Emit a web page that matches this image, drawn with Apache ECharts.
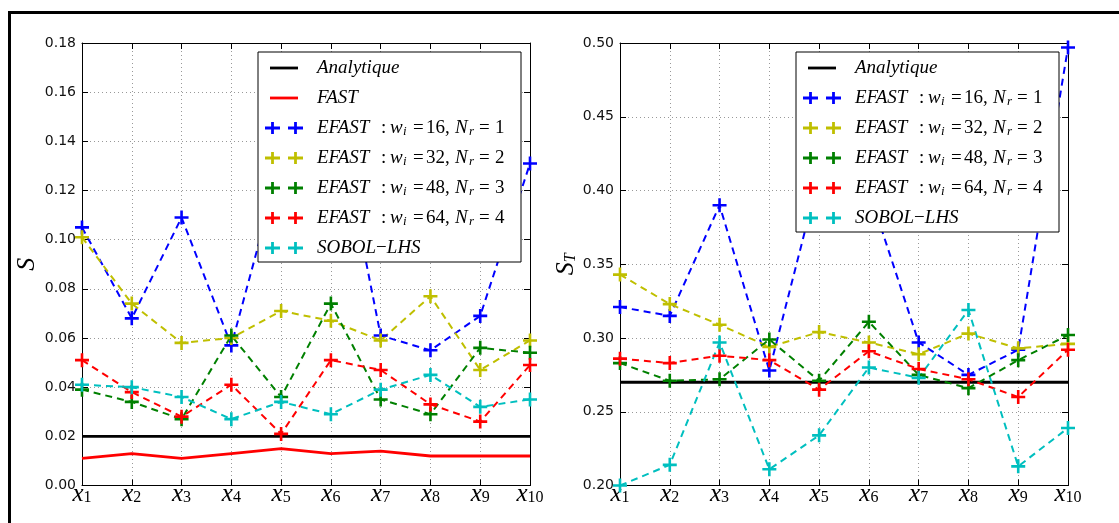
<!DOCTYPE html>
<html><head><meta charset="utf-8">
<script src="https://cdn.jsdelivr.net/npm/echarts@6/dist/echarts.min.js"></script>
<style>html,body{margin:0;padding:0;background:#fff}#c{width:1119px;height:523px}</style>
</head><body><div id="c"></div>
<script>
// ---- categories (x_i) ----
const categories = ['1','2','3','4','5','6','7','8','9','10'];

// ---- left panel : first-order index S ----
const sTicks = [0.00,0.02,0.04,0.06,0.08,0.10,0.12,0.14,0.16,0.18];
const sAnalytique = [0.020,0.020,0.020,0.020,0.020,0.020,0.020,0.020,0.020,0.020];
const sFast      = [0.011,0.013,0.011,0.013,0.015,0.013,0.014,0.012,0.012,0.012];
const sEfast16   = [0.105,0.068,0.109,0.057,0.132,0.163,0.061,0.055,0.069,0.131];
const sEfast32   = [0.101,0.074,0.058,0.060,0.071,0.067,0.059,0.077,0.047,0.059];
const sEfast48   = [0.039,0.034,0.027,0.061,0.036,0.074,0.035,0.029,0.056,0.054];
const sEfast64   = [0.051,0.038,0.028,0.041,0.021,0.051,0.047,0.033,0.026,0.049];
const sSobol     = [0.041,0.040,0.036,0.027,0.034,0.029,0.039,0.045,0.032,0.035];

// ---- right panel : total index S_T ----
const stTicks = [0.20,0.25,0.30,0.35,0.40,0.45,0.50];
const stAnalytique = [0.270,0.270,0.270,0.270,0.270,0.270,0.270,0.270,0.270,0.270];
const stEfast16  = [0.321,0.315,0.390,0.278,0.410,0.400,0.297,0.275,0.292,0.497];
const stEfast32  = [0.343,0.323,0.309,0.294,0.304,0.297,0.289,0.303,0.293,0.296];
const stEfast48  = [0.283,0.271,0.272,0.299,0.271,0.311,0.275,0.266,0.285,0.302];
const stEfast64  = [0.286,0.283,0.288,0.285,0.265,0.291,0.279,0.272,0.260,0.292];
const stSobol    = [0.200,0.214,0.297,0.211,0.234,0.280,0.273,0.319,0.213,0.239];

const C = {k:'#000000', b:'#0000ff', y:'#bfbf00', g:'#008000', r:'#ff0000', c:'#00bfbf'};
const SERIF = '"Liberation Serif", "DejaVu Serif", serif';
const PLUS = 'path://M0,5.7H14V8.3H0Z M5.7,0H8.3V14H5.7Z';
const PLUS2 = 'path://M0,0L0,0M48,16L48,16M1,6.6H16V9.4H1Z M7.1,2H9.9V14H7.1Z M24,6.6H39V9.4H24Z M30.1,2H32.9V14H30.1Z';
const BAR = 'path://M0,0L0,0M48,16L48,16M6,6.6H34V9.4H6Z';

const NAMES = {
  an: 'Analytique', fa: 'FAST',
  e16: 'EFAST : wi =16, Nr =1', e32: 'EFAST : wi =32, Nr =2',
  e48: 'EFAST : wi =48, Nr =3', e64: 'EFAST : wi =64, Nr =4',
  so: 'SOBOL-LHS'
};
const RICH_NAMES = {};
RICH_NAMES[NAMES.an] = '{a|Analytique}';
RICH_NAMES[NAMES.fa] = '{a|FAST}';
[['e16','16','1'],['e32','32','2'],['e48','48','3'],['e64','64','4']].forEach(function(t){
  RICH_NAMES[NAMES[t[0]]] = '{E|EFAST}{col|:}{w|w}{bi|i}{eq1|=}{num|' + t[1] + ',}{N|N}{br|r}{eq2|=}{r|' + t[2] + '}';
});
RICH_NAMES[NAMES.so] = '{a|SOBOL}{r|\u2212}{a|LHS}';

function it(w) { const o = {fontFamily: SERIF, fontStyle: 'italic', fontSize: 19, color: '#000', lineHeight: 20}; if (w) o.width = w; return o; }
function rm(w) { const o = {fontFamily: SERIF, fontSize: 19, color: '#000', lineHeight: 20}; if (w) o.width = w; return o; }
function sb(w) { return {fontFamily: SERIF, fontStyle: 'italic', fontSize: 13, color: '#000', verticalAlign: 'bottom', lineHeight: 12, padding: [7,0,0,0], width: w}; }
const legendRich = {
  a: it(), r: rm(),
  E: it(64), col: rm(9), w: it(13), bi: sb(10), eq1: rm(13), num: rm(29),
  N: it(14), br: sb(10), eq2: rm(16)
};

function legend(left, top, keys) {
  return {
    orient: 'vertical', left: left, top: top,
    backgroundColor: '#fff', borderColor: '#000', borderWidth: 1, borderRadius: 0,
    padding: [6, 8, 4, 6], itemGap: 10, itemWidth: 48, itemHeight: 16,
    selectedMode: false, z: 10,
    data: keys.map(function(k){
      return {name: NAMES[k], icon: (k === 'an' || k === 'fa') ? BAR : PLUS2};
    }),
    formatter: function(n){ return RICH_NAMES[n]; },
    textStyle: {width: 196, lineHeight: 20, rich: legendRich}
  };
}

function xAx(grid, pos) {
  const bottom = pos === 'bottom';
  return {
    type: 'category', gridIndex: grid, position: pos, data: categories, boundaryGap: false,
    axisLine: {show: true, onZero: false, lineStyle: {color: '#000', width: 1}},
    axisTick: {show: true, inside: true, length: 6, lineStyle: {color: '#000'}},
    axisLabel: bottom ? {
      show: true, margin: -2, interval: 0,
      formatter: function(v){ return '{x|x}{n|' + v + '}'; },
      rich: {
        x: {fontFamily: SERIF, fontStyle: 'italic', fontSize: 25, color: '#000', lineHeight: 22},
        n: {fontFamily: SERIF, fontSize: 16, color: '#000', verticalAlign: 'bottom', lineHeight: 15, padding: [17,0,0,0]}
      }
    } : {show: false},
    splitLine: bottom ? {show: true, lineStyle: {color: '#999', type: [1, 3], width: 1}} : {show: false}
  };
}
function yAx(grid, pos, ticks, name, gap) {
  const left = pos === 'left';
  return {
    type: 'value', gridIndex: grid, position: pos,
    min: ticks[0], max: ticks[ticks.length - 1], interval: ticks[1] - ticks[0],
    axisLine: {show: true, lineStyle: {color: '#000', width: 1}},
    axisTick: {show: true, inside: true, length: 6, lineStyle: {color: '#000'}},
    axisLabel: left ? {
      show: true, margin: 6, fontFamily: '"DejaVu Sans", sans-serif', fontSize: 14, color: '#111',
      formatter: function(v){ return v.toFixed(2); }
    } : {show: false},
    splitLine: left ? {show: true, lineStyle: {color: '#999', type: [1, 3], width: 1}} : {show: false},
    name: left ? name : '', nameLocation: 'middle', nameRotate: 90, nameGap: gap || 40,
    nameTextStyle: {
      rich: {
        s: {fontFamily: SERIF, fontStyle: 'italic', fontSize: 26, color: '#000'},
        t: {fontFamily: SERIF, fontStyle: 'italic', fontSize: 16, color: '#000', verticalAlign: 'bottom', padding: [10,0,0,0]}
      }
    }
  };
}

function solid(key, data, color, idx) {
  return {name: NAMES[key], type: 'line', xAxisIndex: idx, yAxisIndex: idx, data: data,
    showSymbol: false, symbol: 'none', lineStyle: {color: color, width: 2.8}, itemStyle: {color: color},
    silent: true};
}
function dashed(key, data, color, idx) {
  return {name: NAMES[key], type: 'line', xAxisIndex: idx, yAxisIndex: idx, data: data,
    symbol: PLUS, symbolSize: 14, showSymbol: true, showAllSymbol: true,
    lineStyle: {color: color, width: 2, type: [7, 5]}, itemStyle: {color: color}, silent: true};
}

const option = {
  animation: false,
  backgroundColor: '#fff',
  grid: [
    {left: 82, top: 43, width: 448, height: 442.5, containLabel: false},
    {left: 620, top: 43, width: 448, height: 442.5, containLabel: false}
  ],
  xAxis: [xAx(0, 'bottom'), xAx(0, 'top'), xAx(1, 'bottom'), xAx(1, 'top')],
  yAxis: [yAx(0, 'left', sTicks, '{s|S}', 42), yAx(0, 'right', sTicks, ''),
          yAx(1, 'left', stTicks, '{s|S}{t|T}', 29), yAx(1, 'right', stTicks, '')],
  legend: [
    legend(258, 52, ['an','fa','e16','e32','e48','e64','so']),
    legend(796, 52, ['an','e16','e32','e48','e64','so'])
  ],
  series: [
    solid('an', sAnalytique, C.k, 0),
    solid('fa', sFast, C.r, 0),
    dashed('e16', sEfast16, C.b, 0),
    dashed('e32', sEfast32, C.y, 0),
    dashed('e48', sEfast48, C.g, 0),
    dashed('e64', sEfast64, C.r, 0),
    dashed('so', sSobol, C.c, 0),
    solid('an', stAnalytique, C.k, 2),
    dashed('e16', stEfast16, C.b, 2),
    dashed('e32', stEfast32, C.y, 2),
    dashed('e48', stEfast48, C.g, 2),
    dashed('e64', stEfast64, C.r, 2),
    dashed('so', stSobol, C.c, 2)
  ],
  graphic: [{
    type: 'rect', silent: true, z: 100,
    shape: {x: 9.5, y: 12.5, width: 1300, height: 700},
    style: {fill: 'none', stroke: '#000', lineWidth: 3}
  }]
};

const chart = echarts.init(document.getElementById('c'), null, {renderer: 'canvas'});
chart.setOption(option);
</script>
</body></html>
